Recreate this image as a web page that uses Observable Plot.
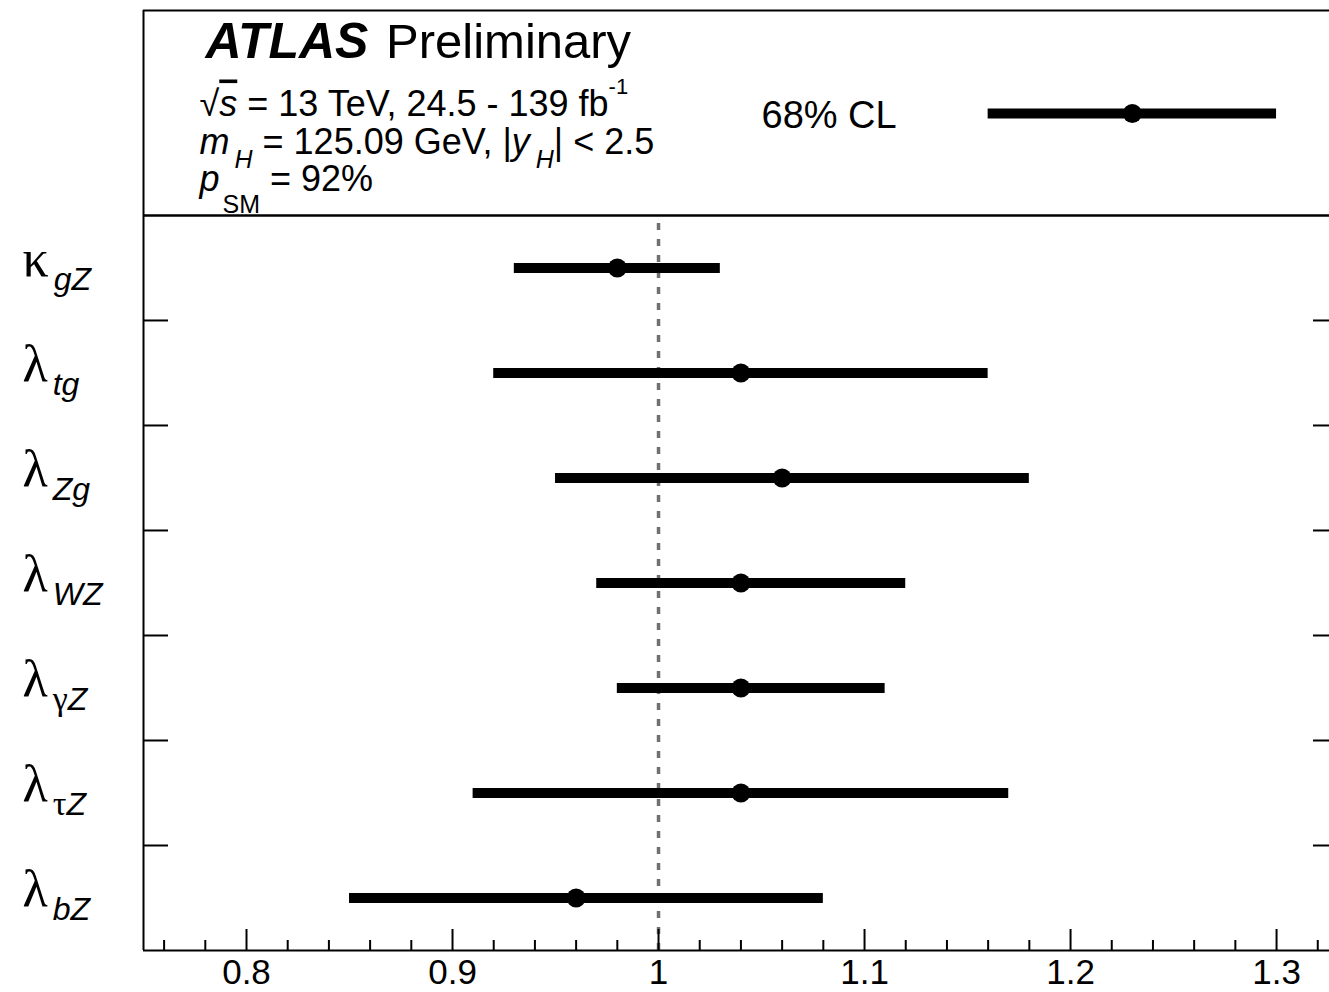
<!DOCTYPE html>
<html>
<head>
<meta charset="utf-8">
<script src="https://cdn.jsdelivr.net/npm/d3@7"></script>
<script src="https://cdn.jsdelivr.net/npm/@observablehq/plot@0.6"></script>
<style>
  html, body { margin: 0; padding: 0; background: #fff; overflow: hidden; }
  svg { display: block; }
</style>
</head>
<body>
<div id="chart"></div>
<script>
// ---- data ----
const paramSymbols = ["κ", "λ", "λ", "λ", "λ", "λ", "λ"];
const paramSubs    = ["gZ", "tg", "Zg", "WZ", "γZ", "τZ", "bZ"];
const central      = [0.98, 1.04, 1.06, 1.04, 1.04, 1.04, 0.96];
const low          = [0.93, 0.92, 0.95, 0.97, 0.98, 0.91, 0.85];
const high         = [1.03, 1.16, 1.18, 1.12, 1.11, 1.17, 1.08];

const legendLabel   = ["68% CL"];
const legendCentral = [1.23];
const legendLow     = [1.16];
const legendHigh    = [1.30];

const xMajorTicks = [0.8, 0.9, 1, 1.1, 1.2, 1.3];
const xMinorTicks = [0.76, 0.78, 0.82, 0.84, 0.86, 0.88, 0.92, 0.94, 0.96, 0.98,
                     1.02, 1.04, 1.06, 1.08, 1.12, 1.14, 1.16, 1.18, 1.22, 1.24,
                     1.26, 1.28, 1.32];
const rowBoundaries = [1, 2, 3, 4, 5, 6];
const smReference = [1];

const headerLines = [
  "ATLAS Preliminary",
  "√s = 13 TeV, 24.5 - 139 fb-1",
  "mH = 125.09 GeV, |yH| < 2.5",
  "pSM = 92%"
];

// ---- layout ----
const W = 1329, H = 992;
const mL = 143, mR = 0, mT = 10, mB = 42;
const frameW = W - mL - mR, frameH = H - mT - mB;
const nRows = paramSymbols.length;
const headerTop = 8.952;   // y-units: 1 row = 1 unit; header occupies the rest
const legendY = 7.971;

const rows = paramSymbols.map((s, i) => ({
  sym: s, sub: paramSubs[i], c: central[i], lo: low[i], hi: high[i], y: nRows - 0.5 - i
}));
const legendRows = legendCentral.map((c, i) => ({c, lo: legendLow[i], hi: legendHigh[i], y: legendY}));

const SANS = "'Liberation Sans', Arial, Helvetica, sans-serif";
const SERIF = "'Liberation Serif', 'Times New Roman', serif";

// header line placement relative to the frame's top-left corner (x offset, baseline)
const headerPos = [[62, 47], [56, 105], [56, 143], [56, 180]];

const plot = Plot.plot({
  width: W, height: H,
  marginLeft: mL, marginRight: mR, marginTop: mT, marginBottom: mB,
  x: {domain: [0.75, 1.3257], axis: null},
  y: {domain: [0, headerTop], axis: null},
  style: {fontFamily: SANS, background: "white", color: "black"},
  marks: [
    // SM reference dashed line
    Plot.ruleX(smReference, {x: d => d, y1: 0, y2: nRows, stroke: "#707070", strokeWidth: 3.5, strokeDasharray: "7,9"}),
    // frame (left, bottom, top) and header separator
    Plot.ruleX([0.75], {stroke: "black", strokeWidth: 2}),
    Plot.ruleY([0], {stroke: "black", strokeWidth: 2}),
    Plot.ruleY([headerTop], {stroke: "black", strokeWidth: 2}),
    Plot.ruleY([nRows], {stroke: "black", strokeWidth: 2.5}),
    // y ticks at row boundaries (left and right)
    Plot.tickY(rowBoundaries, {y: d => d, insetRight: frameW - 25, stroke: "black", strokeWidth: 2}),
    Plot.tickY(rowBoundaries, {y: d => d, insetLeft: frameW - 16, stroke: "black", strokeWidth: 2}),
    // x ticks
    Plot.tickX(xMajorTicks, {x: d => d, insetTop: frameH - 21, stroke: "black", strokeWidth: 2}),
    Plot.tickX(xMinorTicks, {x: d => d, insetTop: frameH - 10, stroke: "black", strokeWidth: 2}),
    // x tick labels
    Plot.text(xMajorTicks, {x: d => d, frameAnchor: "bottom", text: d => String(d), lineAnchor: "top", dy: 9, fontSize: 35, fill: "black"}),
    // error bars + central values
    Plot.ruleY(rows, {y: "y", x1: "lo", x2: "hi", stroke: "black", strokeWidth: 10}),
    Plot.dot(rows, {x: "c", y: "y", r: 9.5, fill: "black", stroke: null}),
    // legend
    Plot.ruleY(legendRows, {y: "y", x1: "lo", x2: "hi", stroke: "black", strokeWidth: 10}),
    Plot.dot(legendRows, {x: "c", y: "y", r: 9.5, fill: "black", stroke: null}),
    Plot.text(legendLabel, {frameAnchor: "top-left", text: d => d, dx: 618, dy: 117, lineAnchor: "bottom", textAnchor: "start", fontSize: 38, fill: "black"}),
    // header text
    Plot.text(headerLines, {frameAnchor: "top-left", text: d => d, lineAnchor: "bottom", textAnchor: "start", fontSize: 36, fill: "black"}),
    // parameter labels
    Plot.text(rows, {frameAnchor: "left", y: "y", text: "sym", dx: -121, dy: 8, textAnchor: "start", lineAnchor: "bottom", fontSize: 52, fontFamily: SERIF, fill: "black"})
  ]
});

document.getElementById("chart").appendChild(plot);

// ---- rich text (sub/superscripts) ----
function rich(el, parts) {
  const t = d3.select(el);
  t.text(null);
  for (const p of parts) {
    const ts = t.append("tspan").text(p.t);
    if (p.dx != null) ts.attr("dx", p.dx);
    if (p.dy != null) ts.attr("dy", p.dy);
    if (p.size) ts.attr("font-size", p.size);
    if (p.family) ts.attr("font-family", p.family);
    if (p.italic) ts.attr("font-style", "italic");
    if (p.bold) ts.attr("font-weight", "bold");
    if (p.over) ts.attr("text-decoration", "overline");
  }
}

const svgEl = plot.tagName.toLowerCase() === "svg" ? plot : plot.querySelector("svg");
const textGroups = Array.from(svgEl.querySelectorAll(":scope > g")).filter(g => g.querySelector("text") && g.getAttribute("aria-label") === "text");
// order: x tick labels, legend label, header, parameter labels
const headerGroup = textGroups[2];
const labelGroup = textGroups[3];

Array.from(headerGroup.querySelectorAll("text")).forEach((el, i) => {
  const [dx, dy] = headerPos[i];
  const cur = el.getAttribute("transform") || "";
  el.setAttribute("transform", cur + ` translate(${dx},${dy})`);
  if (i === 0) {
    rich(el, [
      {t: "ATLAS", bold: true, italic: true, size: 50},
      {t: " Preliminary", size: 49, dx: 4}
    ]);
  } else if (i === 1) {
    rich(el, [
      {t: "√"},
      {t: "s", italic: true, over: true},
      {t: " = 13 TeV, 24.5 - 139 fb"},
      {t: "-1", size: 22, dy: -22}
    ]);
  } else if (i === 2) {
    rich(el, [
      {t: "m", italic: true},
      {t: "H", italic: true, size: 25, dy: 14, dx: 5},
      {t: " = 125.09 GeV, |", dy: -14},
      {t: "y", italic: true},
      {t: "H", italic: true, size: 25, dy: 14, dx: 6},
      {t: "| < 2.5", dy: -14}
    ]);
  } else if (i === 3) {
    rich(el, [
      {t: "p", italic: true},
      {t: "SM", size: 25, dy: 22, dx: 3},
      {t: " = 92%", dy: -22}
    ]);
  }
});

Array.from(labelGroup.querySelectorAll("text")).forEach((el, i) => {
  const r = rows[i];
  const parts = [{t: r.sym, size: 52, family: SERIF}];
  [...r.sub].forEach((ch, j) => {
    const greek = /[\u0370-\u03ff]/.test(ch);
    parts.push({
      t: ch,
      size: greek ? 34 : 32,
      family: greek ? SERIF : SANS,
      italic: !greek,
      dy: j === 0 ? 14 : null,
      dx: j === 0 ? 5 : null
    });
  });
  rich(el, parts);
});
</script>
</body>
</html>
